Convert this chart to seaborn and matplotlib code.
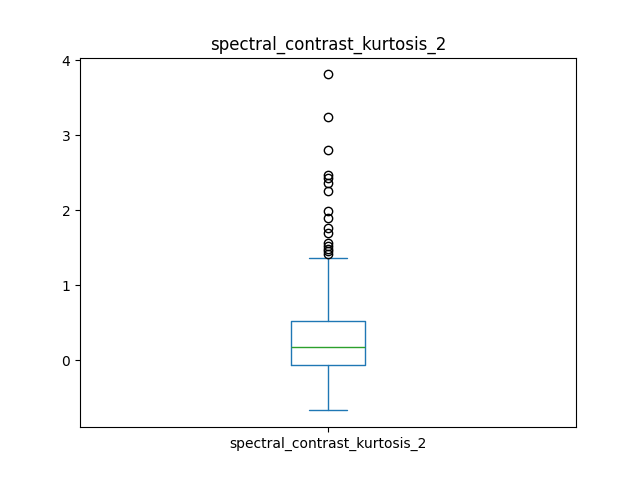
import matplotlib
matplotlib.use("Agg")
import matplotlib.pyplot as plt
import seaborn as sns

label = "spectral_contrast_kurtosis_2"
whisker_low = -0.667
q1 = -0.067
median = 0.173
q3 = 0.52
whisker_high = 1.36
outliers = [3.81, 3.24, 2.80, 2.47, 2.43, 2.36, 2.26, 1.99, 1.89, 1.76, 1.70,
            1.56, 1.52, 1.49, 1.46, 1.42]

sns.set_style("ticks", {"axes.edgecolor": "black", "xtick.color": "black",
                        "ytick.color": "black", "text.color": "black",
                        "axes.labelcolor": "black"})
plt.rcParams['font.family'] = ['DejaVu Sans']

fig, ax = plt.subplots(figsize=(6.4, 4.8), dpi=100)
stats = [{
    "label": label, "whislo": whisker_low, "q1": q1, "med": median,
    "q3": q3, "whishi": whisker_high, "fliers": outliers,
}]
ax.bxp(stats, positions=[1], widths=0.15,
       boxprops=dict(color="C0"), whiskerprops=dict(color="C0"),
       capprops=dict(color="C0"), medianprops=dict(color="C2"),
       flierprops=dict(marker="o", markeredgecolor="black",
                       markerfacecolor="none", markersize=6))
ax.set_xlim(0.5, 1.5)
ax.set_title(label)
fig.savefig("out.png", dpi=100)
